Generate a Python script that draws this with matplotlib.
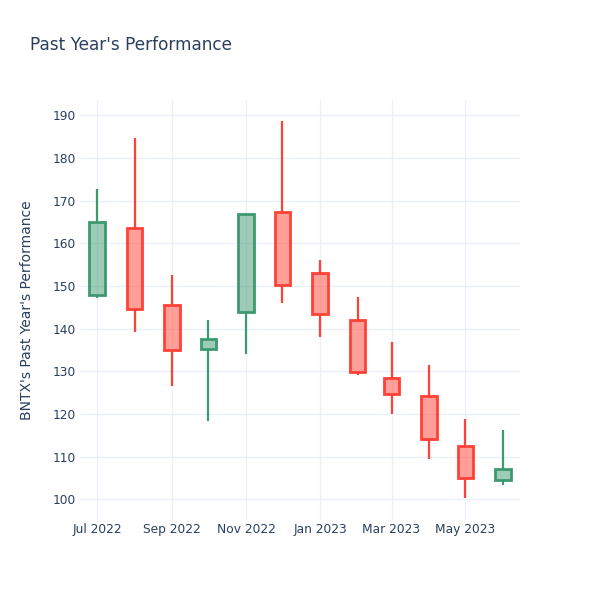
import numpy as np
import matplotlib
matplotlib.use("Agg")
import matplotlib.pyplot as plt
import matplotlib.dates as mdates
from datetime import date

# monthly OHLC
months = ["2022-07-01", "2022-08-01", "2022-09-01", "2022-10-01", "2022-11-01", "2022-12-01",
          "2023-01-01", "2023-02-01", "2023-03-01", "2023-04-01", "2023-05-01", "2023-06-01"]
opens = [147.9, 163.6, 145.6, 135.2, 143.9, 167.4, 153.0, 142.0, 128.4, 124.2, 112.5, 104.5]
highs = [172.7, 184.8, 152.6, 142.0, 167.2, 188.7, 156.1, 147.5, 136.8, 131.4, 118.9, 116.2]
lows = [147.2, 139.3, 126.6, 118.4, 134.0, 145.9, 138.1, 129.1, 120.1, 109.5, 100.2, 103.4]
closes = [165.0, 144.6, 135.0, 137.6, 166.9, 150.2, 143.4, 129.9, 124.6, 114.1, 105.1, 107.1]

tick_labels = ["Jul 2022", "Sep 2022", "Nov 2022", "Jan 2023", "Mar 2023", "May 2023"]

UP = "#3D9970"
DOWN = "#FF4136"
TEXT = "#2a3f5f"
GRID = "#EBF0F8"

fig = plt.figure(figsize=(6, 6), dpi=100)
ax = fig.add_axes([80 / 600, 80 / 600, 440 / 600, 420 / 600])

dates = [date.fromisoformat(m) for m in months]
x = mdates.date2num(dates)
body_w = 13  # days

for xi, o, h, l, c in zip(x, opens, highs, lows, closes):
    col = UP if c >= o else DOWN
    lo_b, hi_b = min(o, c), max(o, c)
    ax.plot([xi, xi], [hi_b, h], color=col, lw=1.6, solid_capstyle="butt", zorder=2)
    ax.plot([xi, xi], [l, lo_b], color=col, lw=1.6, solid_capstyle="butt", zorder=2)
    ax.add_patch(plt.Rectangle((xi - body_w / 2, lo_b), body_w, hi_b - lo_b,
                               facecolor=matplotlib.colors.to_rgba(col, 0.5),
                               edgecolor=col, lw=2, zorder=3))

ax.set_xlim(mdates.date2num(date(2022, 6, 17)), mdates.date2num(date(2023, 6, 15)))
ax.set_ylim(95.15, 193.6)

tick_dates = [date(2022, 7, 1), date(2022, 9, 1), date(2022, 11, 1),
              date(2023, 1, 1), date(2023, 3, 1), date(2023, 5, 1)]
ax.set_xticks(mdates.date2num(tick_dates))
ax.set_xticklabels(tick_labels)
ax.set_yticks(np.arange(100, 191, 10))

ax.grid(True, color=GRID, lw=1)
ax.set_axisbelow(True)
for s in ax.spines.values():
    s.set_visible(False)
ax.tick_params(length=0, labelsize=8.8, labelcolor=TEXT)
ax.tick_params(axis="x", pad=2)
ax.tick_params(axis="y", pad=3)

ax.set_ylabel("BNTX's Past Year's Performance", fontsize=10, color=TEXT, labelpad=13)
fig.text(30 / 600, 1 - 45 / 600, "Past Year's Performance", fontsize=12.2, color=TEXT,
         va="center", ha="left")

fig.savefig("out.png", dpi=100)
